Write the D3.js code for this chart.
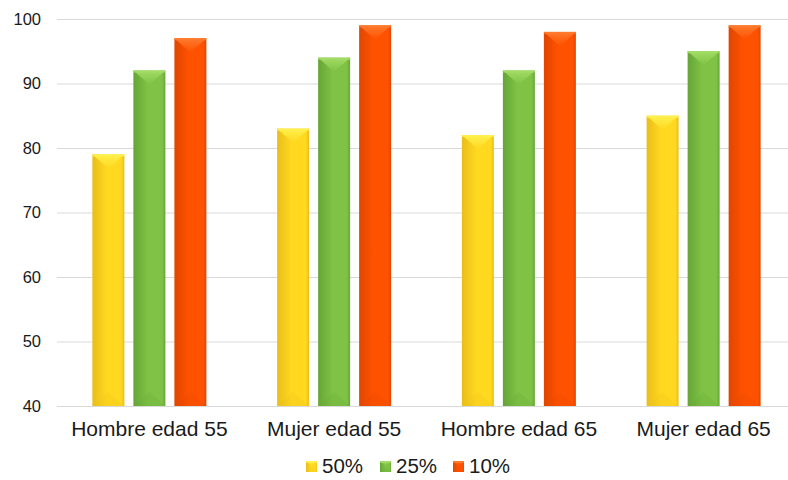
<!DOCTYPE html>
<html>
<head>
<meta charset="utf-8">
<script src="https://cdn.jsdelivr.net/npm/d3@7"></script>
<style>
  body { margin: 0; background: #fff; }
  text { font-family: "Liberation Sans", Arial, sans-serif; fill: #1a1a1a; }
</style>
</head>
<body>
<svg id="chart" width="788" height="480"></svg>
<script>
const categories = ["Hombre edad 55", "Mujer edad 55", "Hombre edad 65", "Mujer edad 65"];
const seriesNames = ["50%", "25%", "10%"];
const values50 = [79, 83, 82, 85];
const values25 = [92, 94, 92, 95];
const values10 = [97, 99, 98, 99];
const yTicks = [40, 50, 60, 70, 80, 90, 100];

const palette = [
    {base: "#ffd820", dark: "#e9bd1a", light: "#fff04e"},
    {base: "#7fc245", dark: "#66a536", light: "#a2dc66"},
    {base: "#ff5200", dark: "#e04600", light: "#ff7a2e"}
];

const svg = d3.select("#chart");
const margin = {top: 19, right: -8, bottom: 74, left: 57};
const width = +svg.attr("width") - margin.left - margin.right;
const height = +svg.attr("height") - margin.top - margin.bottom;

const defs = svg.append("defs");
palette.forEach((c, i) => {
    const gr = defs.append("linearGradient").attr("id", "body" + i)
        .attr("x1", "0").attr("x2", "1").attr("y1", "0").attr("y2", "0");
    gr.append("stop").attr("offset", "0").attr("stop-color", c.dark);
    gr.append("stop").attr("offset", "0.45").attr("stop-color", c.base);
    gr.append("stop").attr("offset", "0.9").attr("stop-color", c.base);
    gr.append("stop").attr("offset", "1").attr("stop-color", c.dark);
    const tg = defs.append("linearGradient").attr("id", "top" + i)
        .attr("x1", "0").attr("x2", "0").attr("y1", "0").attr("y2", "1");
    tg.append("stop").attr("offset", "0").attr("stop-color", c.light);
    tg.append("stop").attr("offset", "1").attr("stop-color", c.base);
});

const g = svg.append("g").attr("transform", `translate(${margin.left},${margin.top})`);

const x0 = d3.scaleBand().domain(categories).range([0, width]);
const x1 = d3.scaleBand().domain(seriesNames).range([-57, 57]).paddingInner(0.22);
const y = d3.scaleLinear().domain([40, 100]).range([height, 0]);

// gridlines
g.append("g")
    .call(d3.axisLeft(y).tickValues(yTicks).tickSize(-width).tickFormat(""))
    .call(a => a.select(".domain").remove())
    .call(a => a.selectAll("line").attr("stroke", "#d9d9d9").attr("stroke-width", 1));

// y labels
g.append("g")
    .call(d3.axisLeft(y).tickValues(yTicks).tickSize(0).tickPadding(16))
    .call(a => a.select(".domain").remove())
    .call(a => a.selectAll("text").attr("font-size", 16.5).attr("fill", "#1a1a1a")
        .style("font-family", '"Liberation Sans", Arial, sans-serif'));

// x labels
g.append("g")
    .attr("transform", `translate(0,${height})`)
    .call(d3.axisBottom(x0).tickSize(0).tickPadding(15))
    .call(a => a.select(".domain").remove())
    .call(a => a.selectAll("text").attr("font-size", 21).attr("fill", "#1a1a1a")
        .style("font-family", '"Liberation Sans", Arial, sans-serif'));

const seriesValues = [values50, values25, values10];
const rows = [];
categories.forEach((cat, ci) => {
    seriesNames.forEach((s, si) => {
        rows.push({cat, s, si, v: seriesValues[si][ci]});
    });
});

function bevelBar(sel, bx, by, bw, bh, si) {
    sel.append("rect").attr("x", bx).attr("y", by).attr("width", bw).attr("height", bh)
        .attr("fill", `url(#body${si})`);
    const d = Math.min(bw * 0.44, bh / 2);
    // top bevel
    sel.append("path")
        .attr("d", `M${bx},${by}L${bx + bw},${by}L${bx + bw / 2},${by + d}Z`)
        .attr("fill", `url(#top${si})`);
    sel.append("rect").attr("x", bx).attr("y", by).attr("width", bw).attr("height", Math.min(2, bh))
        .attr("fill", palette[si].light).attr("opacity", 0.8);
    // bottom bevel, faint
    sel.append("path")
        .attr("d", `M${bx},${by + bh}L${bx + bw},${by + bh}L${bx + bw / 2},${by + bh - d}Z`)
        .attr("fill", palette[si].dark).attr("opacity", 0.2);
}

const bars = g.append("g");
rows.forEach(r => {
    const bx = x0(r.cat) + x0.bandwidth() / 2 + x1(r.s);
    const by = y(r.v);
    bevelBar(bars.append("g"), bx, by, x1.bandwidth(), y(40) - by, r.si);
});

// legend
const legendX = [306, 380, 453];
const legend = svg.append("g").attr("transform", "translate(0,466)");
seriesNames.forEach((s, i) => {
    const lg = legend.append("g");
    bevelBar(lg, legendX[i], -5, 11, 11, i);
    lg.append("text").attr("x", legendX[i] + 16).attr("y", 0).attr("dy", "0.36em")
        .attr("font-size", 20.5).text(s);
});
</script>
</body>
</html>
